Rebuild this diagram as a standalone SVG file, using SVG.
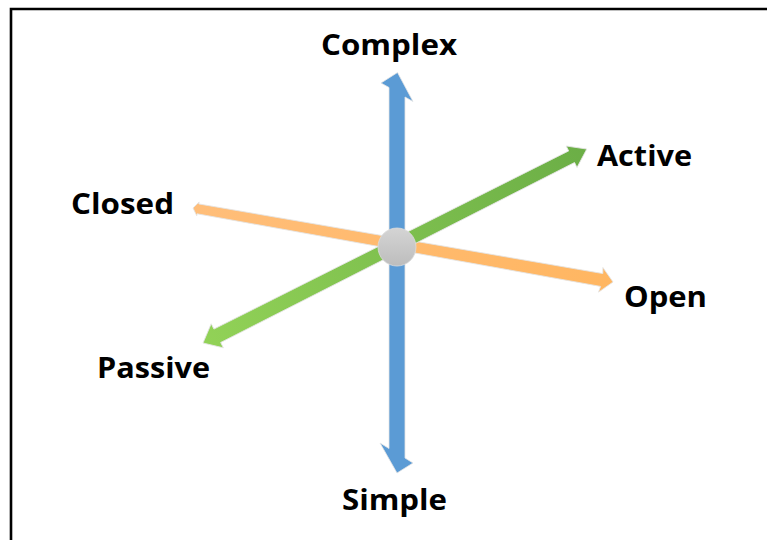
<svg xmlns="http://www.w3.org/2000/svg" width="767" height="540" viewBox="0 0 767 540">
  <style>
    .lbl { font-family: "Open Sans", "Liberation Sans", sans-serif; font-weight: 700; font-size: 28.5px; fill: #000; }
    .axis { stroke: #e4e4e4; stroke-width: 0.8; stroke-linejoin: miter; }
  </style>
  <defs>
    <linearGradient id="gGreen" x1="0" y1="0" x2="1" y2="0">
      <stop offset="0" stop-color="#92D257"/>
      <stop offset="1" stop-color="#6BAE46"/>
    </linearGradient>
    <linearGradient id="gOrange" x1="0" y1="0" x2="1" y2="0">
      <stop offset="0" stop-color="#FFBE7A"/>
      <stop offset="1" stop-color="#FFB661"/>
    </linearGradient>
    <linearGradient id="gBall" x1="0" y1="0" x2="0" y2="1">
      <stop offset="0" stop-color="#D4D4D4"/>
      <stop offset="1" stop-color="#BDBDBD"/>
    </linearGradient>
  </defs>

  <rect width="767" height="540" fill="#fff"/>
  <!-- frame: top and left edges only -->
  <path d="M11,540 V9 H767" fill="none" stroke="#000" stroke-width="2.6"/>

  <g id="connectors">
    <!-- Closed / Open axis -->
    <g id="axis-closed-open" transform="translate(193 208) rotate(9.99)">
      <polygon class="axis" fill="url(#gOrange)"
        points="0,0 5,-7 5,-5 415,-6.5 414,-12.5 426.5,0 414,12.5 415,6.5 5,5 5,7"/>
    </g>
    <!-- Passive / Active axis -->
    <g id="axis-passive-active" transform="translate(203 343) rotate(-26.81)">
      <polygon class="axis" fill="url(#gGreen)"
        points="0,0 16,-13.5 16,-7.5 413,-6.5 413,-12 430,0 413,12 413,6.5 16,7.5 16,13.5"/>
    </g>
    <!-- Simple / Complex axis -->
    <g id="axis-simple-complex">
      <polygon class="axis" fill="#5B9BD5"
        points="397.5,72.5 413,101.5 405,97 405,458 413,463 397,473 380,443 389,448.5 389,87.5 381,83"/>
    </g>
  </g>

  <g id="origin">
    <circle cx="397" cy="247" r="19" fill="url(#gBall)" stroke="#dcdcdc" stroke-width="0.8"/>
  </g>

  <g id="label-complex"><text class="lbl" x="321" y="55" textLength="136" lengthAdjust="spacingAndGlyphs">Complex</text></g>
  <g id="label-active"><text class="lbl" x="597" y="166" textLength="95" lengthAdjust="spacingAndGlyphs">Active</text></g>
  <g id="label-closed"><text class="lbl" x="71" y="214" textLength="103" lengthAdjust="spacingAndGlyphs">Closed</text></g>
  <g id="label-open"><text class="lbl" x="624" y="307" textLength="83" lengthAdjust="spacingAndGlyphs">Open</text></g>
  <g id="label-passive"><text class="lbl" x="97" y="378" textLength="113" lengthAdjust="spacingAndGlyphs">Passive</text></g>
  <g id="label-simple"><text class="lbl" x="342" y="510" textLength="105" lengthAdjust="spacingAndGlyphs">Simple</text></g>
</svg>
